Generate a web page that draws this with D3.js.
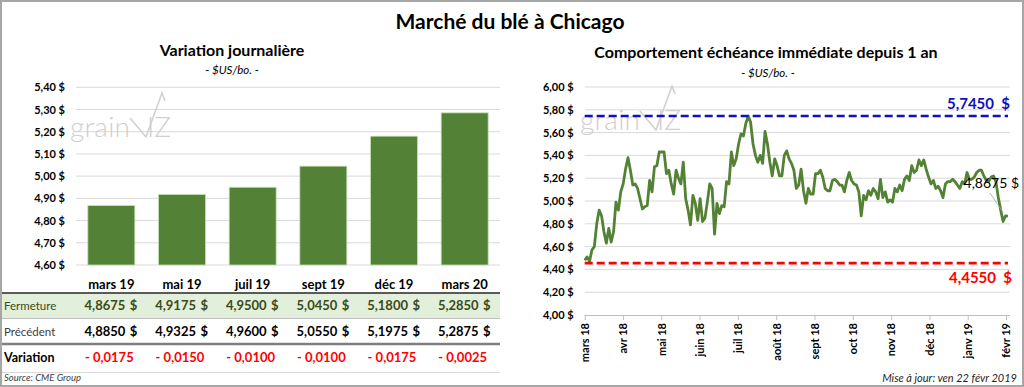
<!DOCTYPE html>
<html>
<head>
<meta charset="utf-8">
<script src="https://cdn.jsdelivr.net/npm/d3@7"></script>
<style>
  body { margin: 0; background: #fff; }
  svg { display: block; font-family: Lato, "Open Sans", sans-serif; }
</style>
</head>
<body>
<script>
// --- data ---
var contracts = ["mars 19", "mai 19", "juil 19", "sept 19", "déc 19", "mars 20"];
var closes = [4.8675, 4.9175, 4.9500, 5.0450, 5.1800, 5.2850];
var previous = [4.8850, 4.9325, 4.9600, 5.0550, 5.1975, 5.2875];
var variation = [-0.0175, -0.0150, -0.0100, -0.0100, -0.0175, -0.0025];
var barTicks = [4.60, 4.70, 4.80, 4.90, 5.00, 5.10, 5.20, 5.30, 5.40];

var months = ["mars 18", "avr 18", "mai 18", "juin 18", "juil 18", "août 18",
              "sept 18", "oct 18", "nov 18", "déc 18", "janv 19", "févr 19"];
var lineTicks = [4.00, 4.20, 4.40, 4.60, 4.80, 5.00, 5.20, 5.40, 5.60, 5.80, 6.00];
// nearby contract, 22 févr 2018 -> 22 févr 2019
var prices = [4.48, 4.51, 4.47, 4.57, 4.60, 4.80, 4.92, 4.87, 4.73, 4.63, 4.76, 4.64, 4.73, 4.99, 4.92, 5.08,
  5.15, 5.28, 5.38, 5.27, 5.14, 5.15, 5.11, 5.02, 4.93, 4.95, 4.96, 5.18, 5.08, 5.30, 5.31, 5.43, 5.43, 5.43,
  5.24, 5.27, 5.15, 5.06, 5.27, 5.20, 5.15, 5.34, 5.02, 4.92, 4.79, 5.05, 4.98, 4.83, 5.02, 4.82, 4.85, 4.99,
  5.15, 5.11,
  4.71, 4.98, 4.89, 4.96, 4.95, 5.17, 5.15, 5.43, 5.31, 5.37, 5.50, 5.59, 5.57, 5.68, 5.745, 5.69, 5.50, 5.40,
  5.34, 5.40, 5.33, 5.61, 5.50, 5.34, 5.22, 5.37, 5.31, 5.22, 5.22, 5.40, 5.44, 5.37, 5.33, 5.27, 5.11, 5.14,
  5.28, 5.09, 4.98, 5.11, 5.06, 5.06, 5.24, 5.24, 5.27, 5.21, 5.11, 5.09, 5.09, 5.18, 5.19, 5.17, 5.14, 5.14,
  5.08, 5.18, 5.25, 5.18, 5.15, 5.14, 5.08, 4.87, 5.05,
  5.01, 5.09, 5.05, 5.11, 5.08, 5.02, 5.19, 5.03, 5.08, 4.99, 5.01, 4.99, 5.11, 5.08, 5.14, 5.09, 5.19, 5.22,
  5.18, 5.31, 5.25, 5.27, 5.36, 5.31, 5.36, 5.28, 5.21, 5.15, 5.18, 5.11, 5.13, 5.09, 5.03, 5.15, 5.17, 5.17,
  5.19, 5.17, 5.14, 5.11, 5.17, 5.15, 5.25, 5.19, 5.19, 5.21, 5.25, 5.27, 5.27, 5.22, 5.18, 5.17, 5.21, 5.22,
  5.17, 5.03, 4.92, 4.82, 4.87, 4.8675];
var highPrice = 5.7450,
    lowPrice = 4.4550,
    lastPrice = 4.8675;

var fr = d3.formatLocale({decimal: ",", thousands: " ", grouping: [3], currency: ["", " $"]});
var fmtTick = fr.format("$.2f"),
    fmt4 = fr.format(".4f");

var width = 1024, height = 387;
var svg = d3.select("body").append("svg")
    .attr("width", width)
    .attr("height", height);

svg.append("rect")
    .attr("x", 1).attr("y", 1)
    .attr("width", width - 2).attr("height", height - 2)
    .attr("fill", "#fff")
    .attr("stroke", "#a6a6a6")
    .attr("stroke-width", 2);

svg.append("text")
    .attr("x", 510).attr("y", 29)
    .attr("text-anchor", "middle")
    .attr("font-size", 21).attr("font-weight", "bold")
    .text("Marché du blé à Chicago");

function watermark(g, x, y) {
    g.append("text").attr("x", x).attr("y", y)
        .attr("font-size", 28).attr("font-weight", 300)
        .attr("fill", "#d0d0d0")
        .attr("textLength", 60)
        .text("grain");
    g.append("path")
        .attr("d", "M" + (x + 60) + "," + (y - 19) + " L" + (x + 76) + "," + y +
              " L" + (x + 92) + "," + (y - 44) + " L" + (x + 95) + "," + (y - 36))
        .attr("fill", "none").attr("stroke", "#d0d0d0").attr("stroke-width", 1.6);
    g.append("text").attr("x", x + 77).attr("y", y)
        .attr("font-size", 28).attr("font-weight", 300)
        .attr("fill", "#d0d0d0")
        .text("IZ");
}

// ---------------- left : bars ----------------
var left = svg.append("g");

left.append("text")
    .attr("x", 232).attr("y", 56)
    .attr("text-anchor", "middle")
    .attr("font-size", 16).attr("font-weight", "bold")
    .text("Variation journalière");
left.append("text")
    .attr("x", 232).attr("y", 74)
    .attr("text-anchor", "middle")
    .attr("font-size", 11.5).attr("font-style", "italic")
    .text("- $US/bo. -");

var xb = d3.scaleBand()
    .domain(contracts)
    .range([76, 500])
    .paddingInner(0.335)
    .paddingOuter(0.1675);

var yb = d3.scaleLinear()
    .domain([4.60, 5.40])
    .range([265, 87.3]);

left.append("g")
    .selectAll("line")
    .data(barTicks)
    .enter()
    .append("line")
    .attr("x1", 76).attr("x2", 500)
    .attr("y1", function(d){ return yb(d); })
    .attr("y2", function(d){ return yb(d); })
    .attr("stroke", "#d9d9d9");

var yAxisB = left.append("g")
    .attr("transform", "translate(76,0)")
    .call(d3.axisLeft(yb).tickValues(barTicks).tickFormat(fmtTick).tickSize(0).tickPadding(11));
yAxisB.select(".domain").remove();
yAxisB.selectAll("text")
    .attr("font-family", "Lato, sans-serif")
    .attr("font-size", 11).attr("font-weight", "bold").attr("fill", "#000");

watermark(left, 70, 137);

left.selectAll(".bar")
    .data(closes)
    .enter()
    .append("rect")
    .attr("class", "bar")
    .attr("x", function(d, i){ return xb(contracts[i]); })
    .attr("width", xb.bandwidth())
    .attr("y", function(d){ return yb(d); })
    .attr("height", function(d){ return yb(4.60) - yb(d); })
    .attr("fill", "#538135")
    .attr("stroke", "#c5e0b4")
    .attr("stroke-width", 0.8);

// month labels
left.selectAll(".mlab")
    .data(contracts)
    .enter()
    .append("text")
    .attr("x", function(d){ return xb(d) + xb.bandwidth() / 2; })
    .attr("y", 289)
    .attr("text-anchor", "middle")
    .attr("font-size", 13).attr("font-weight", "bold")
    .text(function(d){ return d; });

// table
left.append("rect")
    .attr("x", 2).attr("y", 293)
    .attr("width", 498).attr("height", 25)
    .attr("fill", "#e2efda");
left.append("line")
    .attr("x1", 2).attr("x2", 500).attr("y1", 293).attr("y2", 293)
    .attr("stroke", "#262626").attr("stroke-width", 1.6);
left.append("line")
    .attr("x1", 2).attr("x2", 500).attr("y1", 318.5).attr("y2", 318.5)
    .attr("stroke", "#bfbfbf").attr("stroke-width", 1);
left.append("line")
    .attr("x1", 2).attr("x2", 500).attr("y1", 344).attr("y2", 344)
    .attr("stroke", "#7f7f7f").attr("stroke-width", 2.5);
left.append("line")
    .attr("x1", 2).attr("x2", 500).attr("y1", 372.5).attr("y2", 372.5)
    .attr("stroke", "#d9d9d9").attr("stroke-width", 1);

var rows = [
    {label: "Fermeture", values: closes, y: 310, labelFill: "#3b4a16", labelWeight: "normal", fill: "#3b4a16", money: true},
    {label: "Précédent", values: previous, y: 336, labelFill: "#404040", labelWeight: "normal", fill: "#000", money: true},
    {label: "Variation", values: variation, y: 362, labelFill: "#000", labelWeight: "bold", fill: "#ff0000", money: false}
];

rows.forEach(function(r){
    left.append("text")
        .attr("x", 4).attr("y", r.y)
        .attr("font-size", r.label == "Variation" ? 12.5 : 11.5)
        .attr("font-weight", r.labelWeight)
        .attr("fill", r.labelFill)
        .text(r.label);
    r.values.forEach(function(v, i){
        var cx = xb(contracts[i]) + xb.bandwidth() / 2;
        if (r.money) {
            left.append("text")
                .attr("x", cx + 14).attr("y", r.y)
                .attr("text-anchor", "end")
                .attr("font-size", 13).attr("font-weight", "bold")
                .attr("fill", r.fill)
                .text(fmt4(v));
            left.append("text")
                .attr("x", cx + 26).attr("y", r.y)
                .attr("text-anchor", "end")
                .attr("font-size", 13).attr("font-weight", "bold")
                .attr("fill", r.fill)
                .text("$");
        } else {
            left.append("text")
                .attr("x", cx - 2).attr("y", r.y)
                .attr("text-anchor", "middle")
                .attr("font-size", 13).attr("font-weight", "bold")
                .attr("fill", r.fill)
                .text((v < 0 ? "- " : "") + fmt4(Math.abs(v)));
        }
    });
});

left.append("text")
    .attr("x", 4).attr("y", 381)
    .attr("font-size", 9.5).attr("font-style", "italic")
    .attr("fill", "#404040")
    .text("Source: CME Group");

// ---------------- right : line ----------------
var right = svg.append("g");

right.append("text")
    .attr("x", 766).attr("y", 58)
    .attr("text-anchor", "middle")
    .attr("font-size", 16).attr("font-weight", "bold")
    .text("Comportement échéance immédiate depuis 1 an");
right.append("text")
    .attr("x", 768).attr("y", 77)
    .attr("text-anchor", "middle")
    .attr("font-size", 11.5).attr("font-style", "italic")
    .text("- $US/bo. -");

var xl = d3.scaleLinear()
    .domain([0, months.length - 1])
    .range([584.7, 1006]);
var yl = d3.scaleLinear()
    .domain([4.00, 6.00])
    .range([315, 87]);

right.append("g")
    .selectAll("line")
    .data(lineTicks.slice(1))
    .enter()
    .append("line")
    .attr("x1", 584.7).attr("x2", 1010)
    .attr("y1", function(d){ return yl(d); })
    .attr("y2", function(d){ return yl(d); })
    .attr("stroke", "#d9d9d9");

var yAxisL = right.append("g")
    .attr("transform", "translate(584.7,0)")
    .call(d3.axisLeft(yl).tickValues(lineTicks).tickFormat(fmtTick).tickSize(0).tickPadding(11));
yAxisL.select(".domain").remove();
yAxisL.selectAll("text")
    .attr("font-family", "Lato, sans-serif")
    .attr("font-size", 11).attr("font-weight", "bold").attr("fill", "#000");

var xAxisL = right.append("g")
    .attr("transform", "translate(0,315)")
    .call(d3.axisBottom(xl).tickValues(d3.range(months.length))
        .tickFormat(function(i){ return months[i]; }).tickSize(5).tickSizeOuter(0));
xAxisL.select(".domain").attr("stroke", "#bfbfbf").attr("d", "M584.7,0.5H1010");
xAxisL.selectAll("line").attr("stroke", "#bfbfbf");
xAxisL.selectAll("text")
    .attr("font-family", "Lato, sans-serif")
    .attr("font-size", 11).attr("font-weight", "bold").attr("fill", "#000")
    .attr("text-anchor", "end")
    .attr("transform", "rotate(-90)")
    .attr("x", -8).attr("y", 0).attr("dy", "0.35em");

watermark(right, 580, 130);

var step = (months.length - 1 + 0.05) / (prices.length - 1);
var line = d3.line()
    .x(function(d, i){ return xl(i * step); })
    .y(function(d){ return yl(d); });

right.append("path")
    .datum(prices)
    .attr("d", line)
    .attr("fill", "none")
    .attr("stroke", "#548235")
    .attr("stroke-width", 2.8)
    .attr("stroke-linejoin", "round");

// high / low
right.append("line")
    .attr("x1", 584.7).attr("x2", 1008)
    .attr("y1", yl(highPrice)).attr("y2", yl(highPrice))
    .attr("stroke", "#1010c0").attr("stroke-width", 2.6)
    .attr("stroke-dasharray", "8,4");
right.append("line")
    .attr("x1", 584.7).attr("x2", 1008)
    .attr("y1", yl(lowPrice)).attr("y2", yl(lowPrice))
    .attr("stroke", "#ff0000").attr("stroke-width", 2.6)
    .attr("stroke-dasharray", "8,4");

right.append("text")
    .attr("x", 1010).attr("y", yl(highPrice) - 7)
    .attr("text-anchor", "end")
    .attr("font-size", 15).attr("font-weight", "bold")
    .attr("fill", "#1010c0")
    .attr("style", "white-space:pre")
    .text(fmt4(highPrice) + "  $");
right.append("text")
    .attr("x", 1012).attr("y", yl(lowPrice) + 20)
    .attr("text-anchor", "end")
    .attr("font-size", 15).attr("font-weight", "bold")
    .attr("fill", "#ff0000")
    .attr("style", "white-space:pre")
    .text(fmt4(lowPrice) + "  $");

// last value label with leader
var lastX = xl((prices.length - 1) * step);
right.append("line")
    .attr("x1", lastX - 18).attr("y1", 193)
    .attr("x2", lastX - 5).attr("y2", yl(lastPrice) - 4)
    .attr("stroke", "#a6a6a6").attr("stroke-width", 0.8);
right.append("text")
    .attr("x", 1019).attr("y", 188)
    .attr("text-anchor", "end")
    .attr("font-size", 14)
    .attr("fill", "#000")
    .text(fmt4(lastPrice) + " $");

right.append("text")
    .attr("x", 1017).attr("y", 382)
    .attr("text-anchor", "end")
    .attr("font-size", 11).attr("font-style", "italic")
    .attr("fill", "#262626")
    .text("Mise à jour: ven 22 févr 2019");
</script>
</body>
</html>
